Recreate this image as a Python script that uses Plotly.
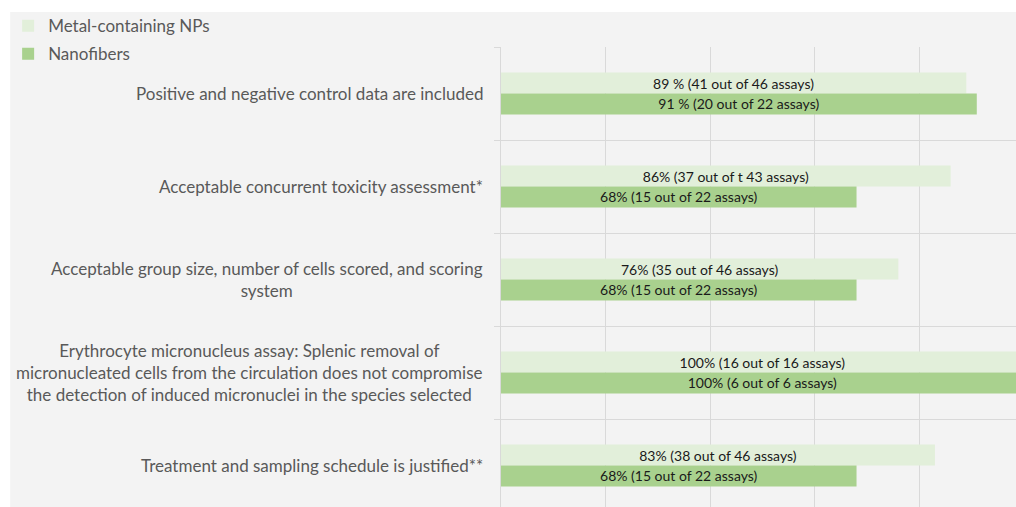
import plotly.graph_objects as go

# Données
criteres = [
    "Positive and negative control data are included",
    "Acceptable concurrent toxicity assessment*",
    "Acceptable group size, number of cells scored, and scoring<br>system",
    "Erythrocyte micronucleus assay: Splenic removal of<br>micronucleated cells from the circulation does not compromise<br>the detection of induced micronuclei in the species selected",
    "Treatment and sampling schedule is justified**",
]
metal_vals = [0.89, 0.86, 0.76, 1.00, 0.83]
metal_txt = [
    "89 % (41 out of 46 assays)",
    "86% (37 out of t 43 assays)",
    "76% (35 out of 46 assays)",
    "100% (16 out of 16 assays)",
    "83% (38 out of 46 assays)",
]
nano_vals = [0.91, 0.68, 0.68, 1.00, 0.68]
nano_txt = [
    "91 % (20 out of 22 assays)",
    "68% (15 out of 22 assays)",
    "68% (15 out of 22 assays)",
    "100% (6 out of 6 assays)",
    "68% (15 out of 22 assays)",
]

FONT = "Lato, 'Open Sans', sans-serif"
GRID = "#d9d9d9"

fig = go.Figure()
fig.add_trace(go.Bar(
    y=criteres, x=metal_vals, orientation="h", name="Metal-containing NPs",
    marker=dict(color="#e2efda", line=dict(width=0)),
    text=metal_txt, textposition="inside", insidetextanchor="middle",
    textangle=0, constraintext="none",
    textfont=dict(family=FONT, size=14, color="#1a1a1a"),
    legendgroup="a",
))
fig.add_trace(go.Bar(
    y=criteres, x=nano_vals, orientation="h", name="Nanofibers",
    marker=dict(color="#a9d18e", line=dict(width=0)),
    text=nano_txt, textposition="inside", insidetextanchor="middle",
    textangle=0, constraintext="none",
    textfont=dict(family=FONT, size=14, color="#1a1a1a"),
    legendgroup="b",
))

# Libellés des catégories centrés, alignés à droite de l'axe
for c in criteres:
    fig.add_annotation(
        text=c, x=-0.031, y=c, xref="paper", yref="y",
        xanchor="right", yanchor="middle", align="center", showarrow=False,
        font=dict(family=FONT, size=17, color="#595959"),
    )

# Fond gris de la zone du graphique
fig.add_shape(
    type="rect", xref="paper", yref="paper",
    x0=-0.953, x1=1.1, y0=-0.2, y1=1.076,
    fillcolor="#f3f3f3", line=dict(width=0), layer="below",
)

fig.update_layout(
    width=1016, height=507,
    margin=dict(l=501, r=0, t=47, b=0),
    paper_bgcolor="white", plot_bgcolor="rgba(0,0,0,0)",
    barmode="group", bargap=0.55, bargroupgap=0,
    font=dict(family=FONT, color="#595959"),
    showlegend=True,
    legend=dict(
        xref="container", yref="container", x=0.008, y=0.984,
        xanchor="left", yanchor="top", traceorder="grouped",
        tracegroupgap=3, bgcolor="rgba(0,0,0,0)",
        font=dict(family=FONT, size=17, color="#595959"),
    ),
    xaxis=dict(
        range=[0, 0.985], dtick=0.2, showticklabels=False,
        showgrid=True, gridcolor=GRID, gridwidth=1, zeroline=False,
        fixedrange=True,
    ),
    yaxis=dict(
        range=[4.446, -0.5], showticklabels=False, tickson="boundaries",
        ticks="outside", ticklen=6, tickcolor=GRID,
        showgrid=True, gridcolor=GRID, gridwidth=1,
        showline=True, linecolor=GRID, linewidth=1,
    ),
)

# page sans marge ni barre de défilement : la figure occupe toute la fenêtre
fig.write_html(
    "out.html",
    config={"displayModeBar": False},
    post_script="document.body.style.margin='0';document.body.style.overflow='hidden';",
)
